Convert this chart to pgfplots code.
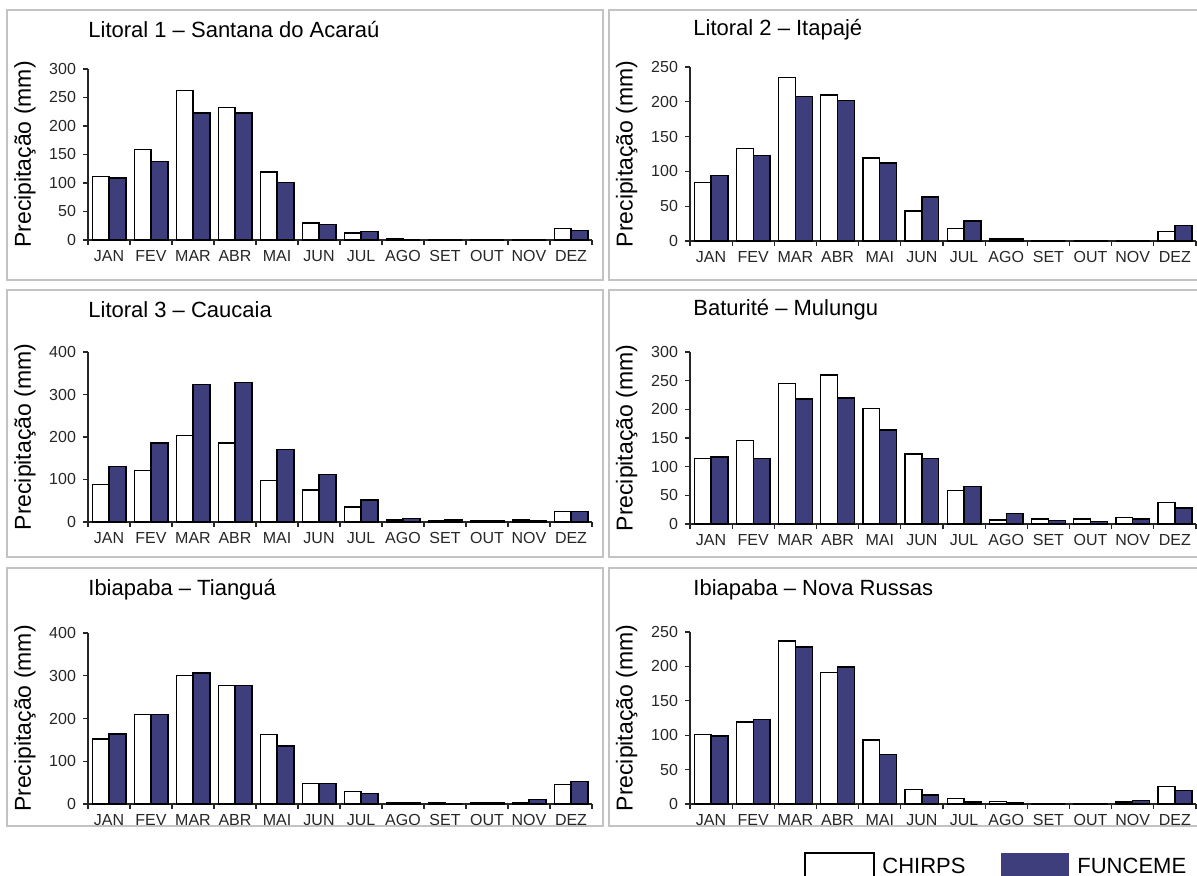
\documentclass[border=0pt]{standalone}
\usepackage{fontspec}
\setmainfont{Liberation Sans}
\usepackage{pgfplots}
\usepackage{pgfplotstable}
\pgfplotsset{compat=1.18}
\definecolor{fun}{RGB}{62,62,124}
\definecolor{boxgray}{RGB}{195,195,195}

% columns: month index, CHIRPS, FUNCEME
\pgfplotstableread{
x c f
0 111 109
1 159 138
2 262 223
3 232 223
4 119 101
5 30 27
6 12 15
7 2 0
8 0 0
9 1 0
10 1 0
11 20 17
}\tA
\pgfplotstableread{
x c f
0 84 94
1 133 123
2 235 208
3 210 202
4 119 112
5 43 63
6 18 29
7 3 3
8 1 0
9 0 1
10 0 1
11 14 22
}\tB
\pgfplotstableread{
x c f
0 88 130
1 121 186
2 203 324
3 186 328
4 98 170
5 75 112
6 35 52
7 5 8
8 3 5
9 2 2
10 5 2
11 25 25
}\tC
\pgfplotstableread{
x c f
0 114 117
1 146 114
2 245 218
3 260 220
4 201 164
5 122 114
6 58 65
7 7 18
8 9 6
9 9 4
10 11 9
11 38 28
}\tD
\pgfplotstableread{
x c f
0 152 164
1 209 209
2 300 306
3 277 277
4 163 136
5 48 48
6 29 25
7 2 2
8 2 0
9 2 4
10 2 10
11 45 52
}\tE
\pgfplotstableread{
x c f
0 101 99
1 119 123
2 237 228
3 191 199
4 93 72
5 21 13
6 8 3
7 4 2
8 1 0
9 1 1
10 3 5
11 25 20
}\tF

\pgfplotsset{
  panel/.style={
    scale only axis, width=252pt,
    anchor=south west,
    ybar=0pt, bar width=0.4,
    xmin=-0.5, xmax=11.5, ymin=0,
    axis x line*=bottom, axis y line*=left,
    axis line style={-, line width=0.6pt, black!85},
    tick align=outside,
    major tick length=2.5pt,
    tick style={line width=0.6pt, black!85},
    xtick={-0.5,0.5,...,11.5},
    xticklabels={JAN,FEV,MAR,ABR,MAI,JUN,JUL,AGO,SET,OUT,NOV,DEZ,{}},
    xticklabel style={font=\fontsize{8}{9}\selectfont, text=black!85, yshift=1pt},
    yticklabel style={font=\fontsize{8}{9}\selectfont, text=black!85},
    /pgf/number format/assume math mode=true,
    ylabel={Precipitação (mm)},
    ylabel style={font=\fontsize{11.5}{12}\selectfont, at={(axis description cs:-0.125,0.5)}, anchor=center},
    clip=false,
  },
  cb/.style={draw=black, line width=0.7pt, fill=white},
  fb/.style={draw=black, line width=0.7pt, fill=fun},
}

\begin{document}
\begin{tikzpicture}
\useasboundingbox (0,0) rectangle (598.5pt,438pt);
\clip (0,0) rectangle (598.5pt,438pt);

% panel frames
\foreach \xa/\xb in {3.5/301.5, 304.5/602.5}{
  \draw[boxgray, line width=1pt] (\xa pt,298pt) rectangle (\xb pt,433pt);
  \draw[boxgray, line width=1pt] (\xa pt,159.5pt) rectangle (\xb pt,293pt);
  \draw[boxgray, line width=1pt] (\xa pt,25pt) rectangle (\xb pt,154pt);
}

\tikzset{ttl/.style={anchor=west, font=\fontsize{11}{12}\selectfont, inner sep=0pt}}
\node[ttl] at (44pt,423pt) {Litoral 1 – Santana do Acaraú};
\node[ttl] at (346.5pt,423pt) {Litoral 2 – Itapajé};
\node[ttl] at (44pt,283pt) {Litoral 3 – Caucaia};
\node[ttl] at (346.5pt,283pt) {Baturité – Mulungu};
\node[ttl] at (44pt,143pt) {Ibiapaba – Tianguá};
\node[ttl] at (346.5pt,143pt) {Ibiapaba – Nova Russas};

\begin{axis}[panel, at={(44pt,318pt)}, height=85.5pt, ymax=300, ytick={0,50,...,300},
  xticklabel style={xshift=10.5pt}]
\addplot[cb] table[x=x,y=c]{\tA};
\addplot[fb] table[x=x,y=f]{\tA};
\end{axis}

\begin{axis}[panel, at={(345pt,317.5pt)}, width=253pt, height=87pt, ymax=250, ytick={0,50,...,250},
  xticklabel style={xshift=10.54pt}]
\addplot[cb] table[x=x,y=c]{\tB};
\addplot[fb] table[x=x,y=f]{\tB};
\end{axis}

\begin{axis}[panel, at={(44pt,177pt)}, height=85pt, ymax=400, ytick={0,100,...,400},
  xticklabel style={xshift=10.5pt}]
\addplot[cb] table[x=x,y=c]{\tC};
\addplot[fb] table[x=x,y=f]{\tC};
\end{axis}

\begin{axis}[panel, at={(345pt,176pt)}, width=253pt, height=86pt, ymax=300, ytick={0,50,...,300},
  xticklabel style={xshift=10.54pt}]
\addplot[cb] table[x=x,y=c]{\tD};
\addplot[fb] table[x=x,y=f]{\tD};
\end{axis}

\begin{axis}[panel, at={(44pt,36pt)}, height=85.5pt, ymax=400, ytick={0,100,...,400},
  xticklabel style={xshift=10.5pt}]
\addplot[cb] table[x=x,y=c]{\tE};
\addplot[fb] table[x=x,y=f]{\tE};
\end{axis}

\begin{axis}[panel, at={(345pt,36pt)}, width=253pt, height=86pt, ymax=250, ytick={0,50,...,250},
  xticklabel style={xshift=10.54pt}]
\addplot[cb] table[x=x,y=c]{\tF};
\addplot[fb] table[x=x,y=f]{\tF};
\end{axis}

% legend
\draw[black, line width=0.6pt, fill=white] (402.5pt,-3pt) rectangle (437pt,11.5pt);
\node[anchor=west, font=\fontsize{11}{12}\selectfont, inner sep=0pt] at (441pt,5pt) {CHIRPS};
\draw[fun, fill=fun] (500.5pt,-3pt) rectangle (534pt,11.5pt);
\node[anchor=west, font=\fontsize{11}{12}\selectfont, inner sep=0pt] at (538.5pt,5pt) {FUNCEME};
\end{tikzpicture}
\end{document}
